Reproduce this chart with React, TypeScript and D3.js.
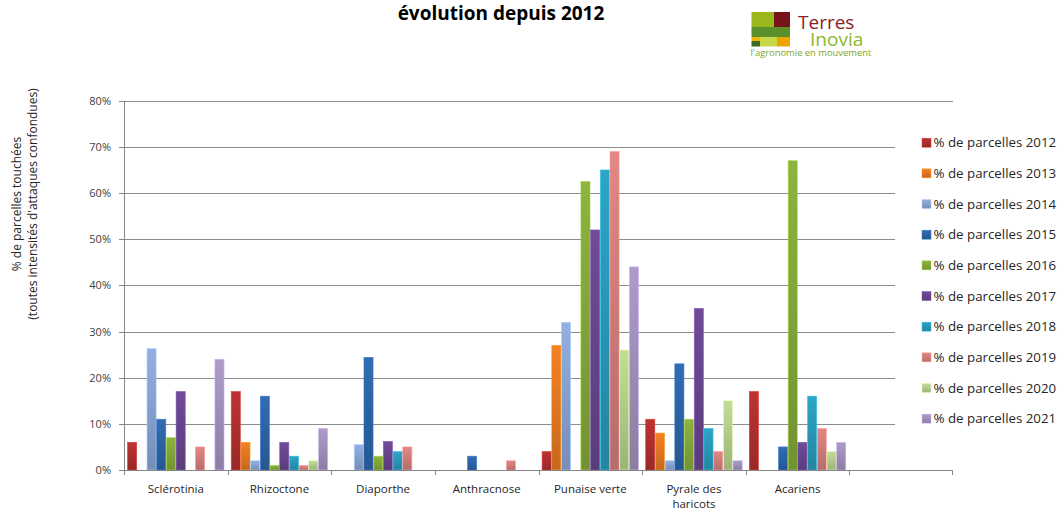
import React, { useEffect, useRef } from 'react';
import * as d3 from 'd3';

const categories = ['Sclérotinia', 'Rhizoctone', 'Diaporthe', 'Anthracnose', 'Punaise verte', 'Pyrale des haricots', 'Acariens', ' '];
const years = ['2012', '2013', '2014', '2015', '2016', '2017', '2018', '2019', '2020', '2021'];

// % of fields touched, one array per year, in category order
const v2012 = [6, 17, 0, 0, 4, 11, 17];
const v2013 = [0, 6, 0, 0, 27, 8, 0];
const v2014 = [26.3, 2, 5.5, 0, 32, 2, 0];
const v2015 = [11, 16, 24.4, 3, 0, 23, 5];
const v2016 = [7, 1, 3, 0, 62.5, 11, 67];
const v2017 = [17, 6, 6.2, 0, 52, 35, 6];
const v2018 = [0, 3, 4, 0, 65, 9, 16];
const v2019 = [5, 1, 5, 2, 69, 4, 9];
const v2020 = [0, 2, 0, 0, 26, 15, 4];
const v2021 = [24, 9, 0, 0, 44, 2, 6];
const seriesValues = [v2012, v2013, v2014, v2015, v2016, v2017, v2018, v2019, v2020, v2021];

const yTicks = [0, 10, 20, 30, 40, 50, 60, 70, 80];

const seriesColors = ['#b3302e', '#e87a22', '#8ba7d6', '#2e66aa', '#86ab3a', '#6a4791', '#2a9cbc', '#d6807e', '#b8d28f', '#a593c0'];

const FONT = '"Open Sans", sans-serif';

const App: React.FC = () => {
  const svgRef = useRef<SVGSVGElement>(null);

  useEffect(() => {
    if (!svgRef.current) return;
    const svg = d3.select(svgRef.current);
    svg.selectAll('*').remove();

    const top = 100.7;
    const bottom = 470;
    const left = 124;
    const right = 953;

    const y = d3.scaleLinear().domain([0, 80]).range([bottom, top]);
    const x0 = d3.scaleBand<string>().domain(categories).range([left, right]).padding(0);
    const gap = 3.3;
    const x1 = d3.scaleBand<string>().domain(years).range([gap, x0.bandwidth() - gap]).padding(0);

    // gradients for each series
    const defs = svg.append('defs');
    seriesColors.forEach((c, i) => {
      const grad = defs.append('linearGradient')
        .attr('id', `g${i}`)
        .attr('x1', 0).attr('y1', 0).attr('x2', 0).attr('y2', 1);
      grad.append('stop').attr('offset', '0%').attr('stop-color', d3.color(c)!.brighter(0.15).formatHex());
      grad.append('stop').attr('offset', '100%').attr('stop-color', d3.color(c)!.darker(0.45).formatHex());
    });

    // gridlines
    svg.append('g')
      .selectAll('line')
      .data(yTicks.filter(t => t > 0))
      .join('line')
      .attr('x1', left).attr('x2', right)
      .attr('y1', d => Math.round(y(d)) + 0.5).attr('y2', d => Math.round(y(d)) + 0.5)
      .style('stroke', '#8c8c8c')
      .style('stroke-width', 1);

    // bars
    const groups = svg.append('g')
      .selectAll('g')
      .data(categories.slice(0, 7))
      .join('g')
      .attr('transform', d => `translate(${x0(d)},0)`);

    groups.selectAll('rect')
      .data((_, ci) => years.map((yr, si) => ({ yr, si, v: seriesValues[si][ci] })))
      .join('rect')
      .filter(d => d.v > 0)
      .attr('x', d => x1(d.yr)! + 0.3)
      .attr('width', x1.bandwidth() - 0.6)
      .attr('y', d => y(d.v))
      .attr('height', d => bottom - y(d.v))
      .style('fill', d => `url(#g${d.si})`)
      .style('stroke', d => d3.color(seriesColors[d.si])!.brighter(0.6).formatHex())
      .style('stroke-width', 0.6);

    // y axis
    svg.append('line')
      .attr('x1', left + 0.5).attr('x2', left + 0.5)
      .attr('y1', top).attr('y2', bottom)
      .style('stroke', '#868686');
    yTicks.forEach(t => {
      const yy = Math.round(y(t)) + 0.5;
      svg.append('line')
        .attr('x1', left - 5).attr('x2', left)
        .attr('y1', yy).attr('y2', yy)
        .style('stroke', '#868686');
      svg.append('text')
        .attr('x', 111)
        .attr('y', yy)
        .attr('dy', '0.35em')
        .style('text-anchor', 'end')
        .style('font-family', FONT)
        .style('font-size', '11px')
        .style('fill', '#404040')
        .text(`${t}%`);
    });

    // x axis
    svg.append('line')
      .attr('x1', left).attr('x2', right)
      .attr('y1', bottom + 0.5).attr('y2', bottom + 0.5)
      .style('stroke', '#868686');
    categories.forEach(c => {
      const xx = Math.round(x0(c)!) + 0.5;
      svg.append('line')
        .attr('x1', xx).attr('x2', xx)
        .attr('y1', bottom).attr('y2', bottom + 5)
        .style('stroke', '#868686');
    });
    svg.append('line')
      .attr('x1', right - 0.5).attr('x2', right - 0.5)
      .attr('y1', bottom).attr('y2', bottom + 5)
      .style('stroke', '#868686');

    // category labels
    const catLines: Record<string, string[]> = { 'Pyrale des haricots': ['Pyrale des', 'haricots'] };
    categories.forEach(c => {
      const lines = catLines[c] || [c];
      const t = svg.append('text')
        .attr('x', x0(c)! + x0.bandwidth() / 2)
        .attr('y', 489)
        .style('text-anchor', 'middle')
        .style('font-family', FONT)
        .style('font-size', '11.5px')
        .style('fill', '#262626');
      lines.forEach((l, i) => {
        t.append('tspan')
          .attr('x', x0(c)! + x0.bandwidth() / 2)
          .attr('dy', i === 0 ? '0.35em' : '1.3em')
          .text(l);
      });
    });

    // legend
    const legend = svg.append('g');
    legend.append('rect')
      .attr('x', 895).attr('y', 118).attr('width', 166).attr('height', 320)
      .style('fill', '#ffffff');
    years.forEach((yr, i) => {
      const cy = 142.7 + i * 30.66;
      legend.append('rect')
        .attr('x', 922).attr('y', cy - 4.5).attr('width', 9).attr('height', 9)
        .style('fill', `url(#g${i})`)
        .style('stroke', d3.color(seriesColors[i])!.brighter(0.6).formatHex())
        .style('stroke-width', 0.5);
      legend.append('text')
        .attr('x', 933.5)
        .attr('y', cy)
        .attr('dy', '0.35em')
        .style('font-family', FONT)
        .style('font-size', '13.3px')
        .style('fill', '#262626')
        .text(`% de parcelles ${yr}`);
    });

    // y axis title
    const yt = svg.append('text')
      .attr('transform', 'translate(0,204) rotate(-90)')
      .style('text-anchor', 'middle')
      .style('font-family', FONT)
      .style('font-size', '12px')
      .style('fill', '#262626');
    yt.append('tspan').attr('x', 0).attr('y', 21).text('% de parcelles touchées');
    yt.append('tspan').attr('x', 0).attr('y', 37).text('(toutes intensités d\'attaques confondues)');

    // title
    svg.append('text')
      .attr('x', 501)
      .attr('y', 20)
      .style('text-anchor', 'middle')
      .style('font-family', FONT)
      .style('font-size', '19px')
      .style('font-weight', 'bold')
      .style('fill', '#000000')
      .text('évolution depuis 2012');

    // logo
    const logo = svg.append('g');
    logo.append('rect').attr('x', 751.5).attr('y', 12).attr('width', 22.5).attr('height', 15).style('fill', '#9ab81c');
    logo.append('rect').attr('x', 774).attr('y', 12).attr('width', 16).attr('height', 15).style('fill', '#761417');
    logo.append('rect').attr('x', 751.5).attr('y', 27).attr('width', 38.5).attr('height', 10).style('fill', '#5b8f2c');
    logo.append('rect').attr('x', 751.5).attr('y', 37).attr('width', 8.5).attr('height', 4).style('fill', '#f2b705');
    logo.append('rect').attr('x', 751.5).attr('y', 41).attr('width', 8.5).attr('height', 5.5).style('fill', '#3e6b24');
    logo.append('rect').attr('x', 760).attr('y', 37).attr('width', 17).attr('height', 9.5).style('fill', '#c8d948');
    logo.append('rect').attr('x', 777).attr('y', 37).attr('width', 13).attr('height', 9.5).style('fill', '#eea400');
    logo.append('text').attr('x', 798).attr('y', 29)
      .style('font-family', FONT).style('font-size', '19px').style('fill', '#8b2024').text('Terres');
    logo.append('text').attr('x', 810).attr('y', 45.5)
      .style('font-family', FONT).style('font-size', '19px').style('fill', '#8cb82c').text('Inovia');
    logo.append('text').attr('x', 750.5).attr('y', 56)
      .style('font-family', FONT).style('font-size', '9.4px').style('fill', '#7ea52a').text('l\'agronomie en mouvement');
  }, []);

  return (
    <svg
      ref={svgRef}
      width={1061}
      height={510}
      style={{ position: 'absolute', left: 0, top: 0, background: '#ffffff', display: 'block' }}
    />
  );
};

export default App;
